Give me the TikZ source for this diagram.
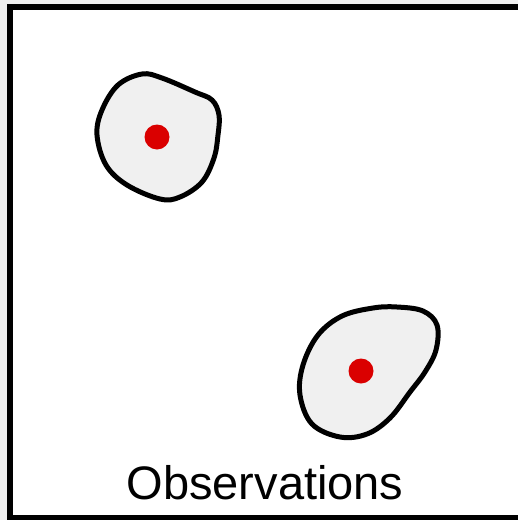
\documentclass[tikz,border=0pt]{standalone}
\usepackage{fontspec}
\setmainfont{Liberation Sans}
\usetikzlibrary{positioning}
\definecolor{obsred}{RGB}{218,0,0}
\begin{document}
\begin{tikzpicture}[
    x=1pt, y=-1pt,
    frame/.style={draw=black, fill=white, line width=6pt},
    blob/.style={draw=black, fill=gray!12, line width=5pt, line join=round},
    dot/.style={circle, fill=obsred, inner sep=0pt, minimum size=25pt},
    obstext/.style={font=\fontsize{47}{56}\selectfont, inner sep=0pt, anchor=base}
]
\useasboundingbox (0,0) rectangle (518,520);
\fill[gray!12] (0,0) rectangle (518,520);
\draw[frame] (10,7) rectangle (523,518);

\draw[blob] plot[smooth cycle, tension=0.6] coordinates {
    (142,74) (162,78) (195,92) (212,100) (219,115) (218,135) (214,158)
    (202,182) (180,197) (160,199) (127,185) (106,165) (97,135) (102,110) (118,85)};
\draw[blob] plot[smooth cycle, tension=0.6] coordinates {
    (373,308) (397,307) (423,311) (437,325) (436,350) (425,372) (410,392)
    (390,418) (367,434) (340,437) (312,424) (300,395) (303,365) (318,335) (342,316)};

\node[dot] (obs1) at (157,137) {};
\node[dot] (obs2) at (361,371) {};

\node[obstext] (title) at (265,499) {Observations};
\end{tikzpicture}
\end{document}
